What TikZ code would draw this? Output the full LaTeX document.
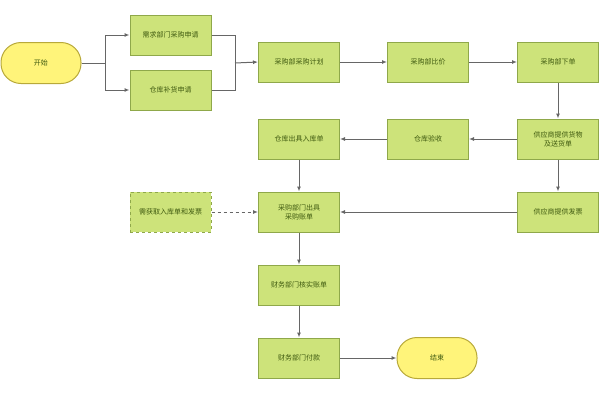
\documentclass[tikz,border=0pt]{standalone}
\usepackage{fontspec}
\newfontfamily\cjk{Noto Sans CJK SC}
\usetikzlibrary{arrows.meta}
\definecolor{bfill}{HTML}{CDE37A}
\definecolor{bdraw}{HTML}{8FA84A}
\definecolor{tcol}{HTML}{3F5A10}
\definecolor{efill}{HTML}{FFF47A}
\definecolor{edraw}{HTML}{B8A93A}
\begin{document}
\begin{tikzpicture}[x=1pt,y=-1pt,
 box/.style={draw=bdraw,fill=bfill,line width=1pt,minimum width=81pt,minimum height=40pt,align=center,text=tcol,font=\cjk\fontsize{7}{9}\selectfont,inner sep=1pt},
 term/.style={draw=edraw,fill=efill,line width=1pt,rounded corners=20pt,minimum width=80pt,minimum height=41pt,text=tcol,font=\cjk\fontsize{7}{9}\selectfont},
 conn/.style={draw=gray!80!black,line width=1pt,-{Latex[length=5pt,width=4pt]}},
 plain/.style={draw=gray!80!black,line width=1pt}]
\useasboundingbox (0,0) rectangle (600,400);
\node[term] (start) at (41,63) {开始};
\node[box] (req) at (170.5,35) {需求部门采购申请};
\node[box] (wh) at (170.5,90) {仓库补货申请};
\node[box] (plan) at (299,62) {采购部采购计划};
\node[box] (cmp) at (428,62) {采购部比价};
\node[box] (ord) at (558,62) {采购部下单};
\node[box] (sup) at (558,139) {供应商提供货物\\及送货单};
\node[box] (chk) at (428,139) {仓库验收};
\node[box] (in) at (299,139) {仓库出具入库单};
\node[box] (bill) at (299,212) {采购部门出具\\采购账单};
\node[box,dashed] (need) at (170.5,212) {需获取入库单和发票};
\node[box] (inv) at (558,212) {供应商提供发票};
\node[box] (ver) at (299,285) {财务部门核实账单};
\node[box] (pay) at (299,358) {财务部门付款};
\node[term] (end) at (437,358) {结束};
\coordinate (s) at (105,63);
\coordinate (m) at (235,63);
\draw[plain] (start.east) -- (s);
\draw[conn] (s) |- (req.west);
\draw[conn] (s) |- (wh.west);
\draw[plain] (req.east) -| (m);
\draw[plain] (wh.east) -| (m);
\draw[conn] (m) -- (plan.west);
\draw[conn] (plan) -- (cmp);
\draw[conn] (cmp) -- (ord);
\draw[conn] (ord) -- (sup);
\draw[conn] (sup) -- (chk);
\draw[conn] (chk) -- (in);
\draw[conn] (in) -- (bill);
\draw[conn] (sup) -- (inv);
\draw[conn] (inv) -- (bill);
\draw[conn,dashed] (need) -- (bill);
\draw[conn] (bill) -- (ver);
\draw[conn] (ver) -- (pay);
\draw[conn] (pay) -- (end);
\end{tikzpicture}
\end{document}
